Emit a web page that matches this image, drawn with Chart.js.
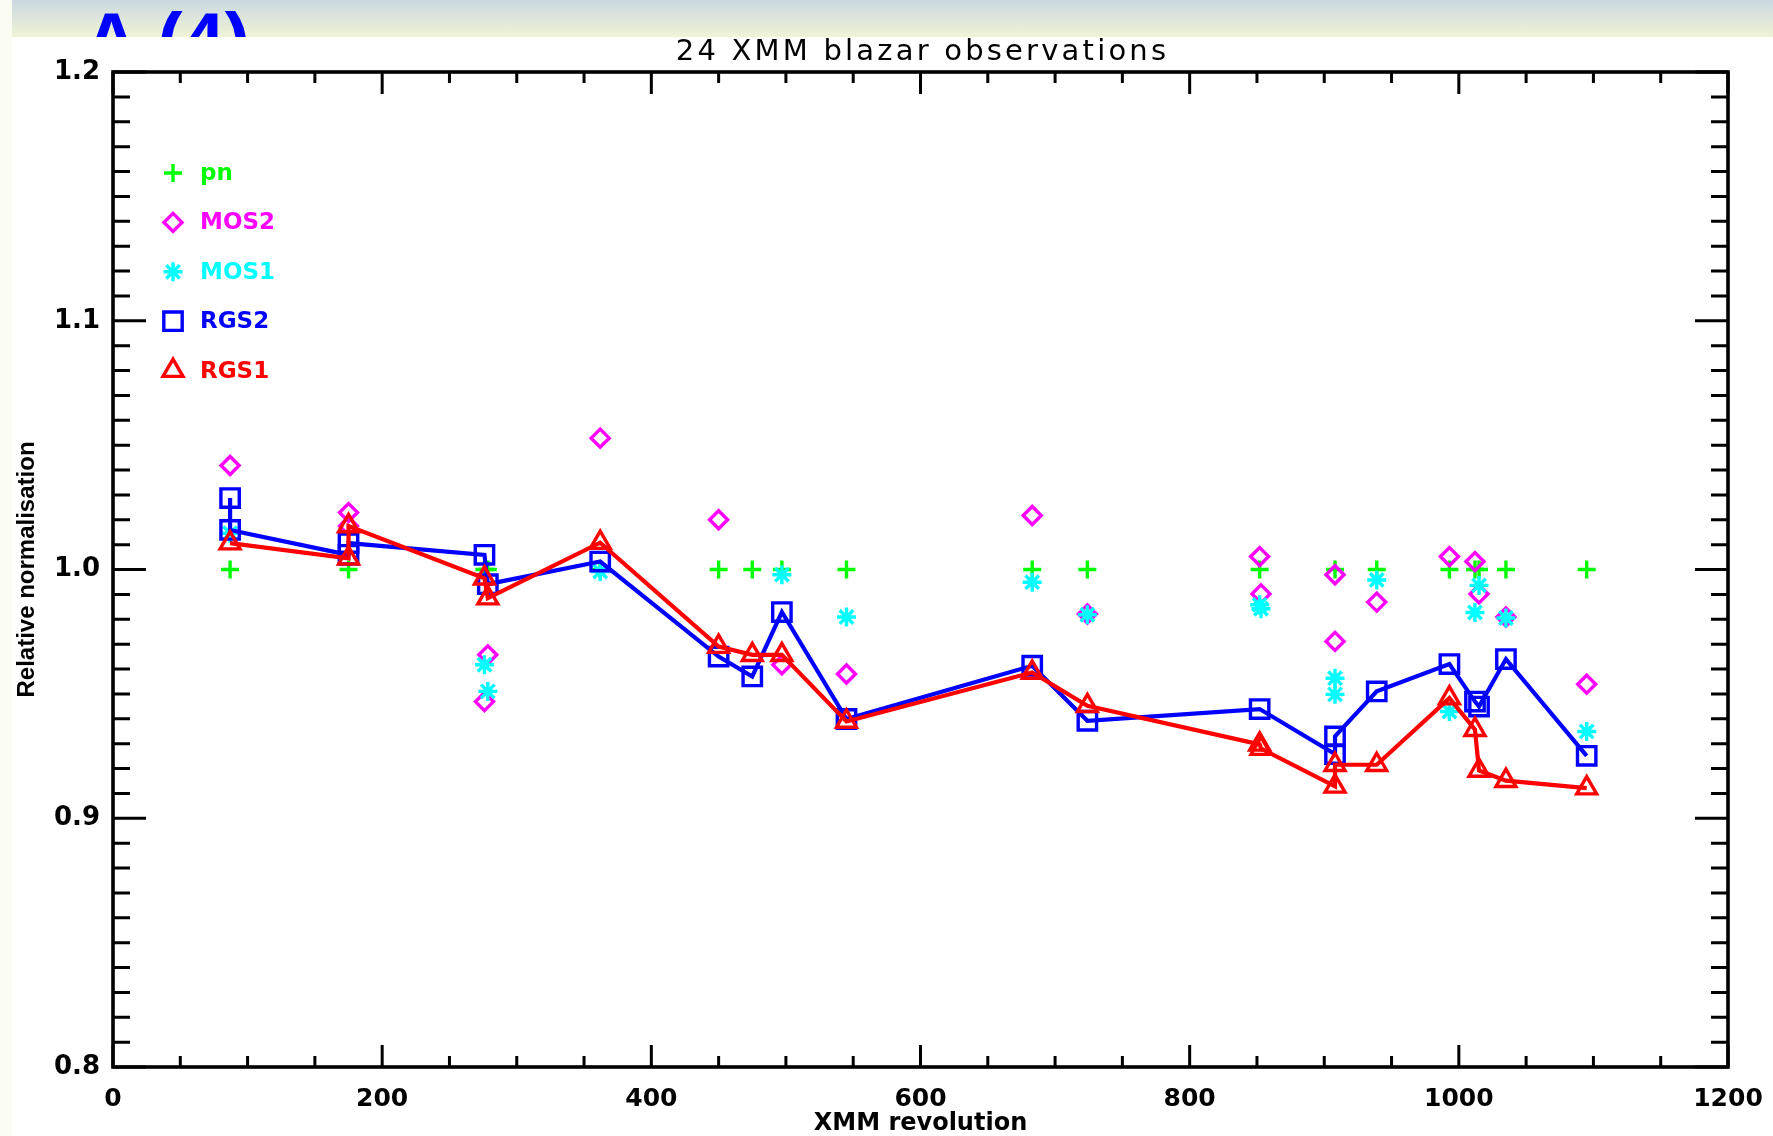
<!DOCTYPE html>
<html>
<head>
<meta charset="utf-8">
<title>24 XMM blazar observations</title>
<script src="https://cdn.jsdelivr.net/npm/chart.js"></script>
<style>
  html, body { margin: 0; padding: 0; background: #fff; }
  #page { position: relative; width: 1773px; height: 1136px; overflow: hidden; background: #fff; }
  #edge { position: absolute; left: 0; top: 0; width: 12px; height: 1136px; background: #fbfcf1; }
  #band { position: absolute; left: 12px; top: 0; right: 0; height: 37px; overflow: hidden;
          background: linear-gradient(#cbd8e2, #f0f3d6); }
  #band span { position: absolute; left: 72px; top: 2px; font: bold 76px/76px "Liberation Sans", sans-serif;
               color: #0000ff; white-space: pre; }
  #box { position: absolute; left: 0; top: 0; width: 1773px; height: 1136px; }
</style>
</head>
<body>
<div id="page">
  <div id="edge"></div>
  <div id="band"><span>A (4)</span></div>
  <div id="box"><canvas id="chart"></canvas></div>
</div>
<script>
const TITLE = '24 XMM blazar observations';
const X_TITLE = 'XMM revolution';
const Y_TITLE = 'Relative normalisation';
const xTickLabels = ['0', '200', '400', '600', '800', '1000', '1200'];
const yTickLabels = ['0.8', '0.9', '1.0', '1.1', '1.2'];

// values (revolution, relative normalisation)
const pnRev  = [87, 175, 276, 278.5, 362, 450, 475, 497, 545, 683, 724, 852, 908, 939, 993, 1012, 1015, 1035, 1095];
const pnNorm = [1.0, 1.0, 1.0, 1.0, 1.0, 1.0, 1.0, 1.0, 1.0, 1.0, 1.0, 1.0, 1.0, 1.0, 1.0, 1.0, 1.0, 1.0, 1.0];

const mos2Rev  = [87, 175, 175, 276, 278.5, 362, 450, 497, 545, 683, 724, 852, 853, 908, 908, 939, 993, 1012, 1015, 1035, 1095];
const mos2Norm = [1.0418, 1.0229, 1.0175, 0.9469, 0.9657, 1.0528, 1.0200, 0.9617, 0.9580, 1.0217, 0.9821,
                  1.0052, 0.9902, 0.9979, 0.9711, 0.9869, 1.0052, 1.0032, 0.9902, 0.9809, 0.9539];

const mos1Rev  = [87, 276, 278.5, 362, 497, 545, 683, 724, 852, 853, 908, 908, 939, 993, 1012, 1015, 1035, 1095];
const mos1Norm = [1.0146, 0.9617, 0.9510, 0.9992, 0.9979, 0.9809, 0.9949, 0.9818, 0.9858, 0.9842,
                  0.9563, 0.9498, 0.9958, 0.9429, 0.9827, 0.9936, 0.9805, 0.9349];

const rgs2Rev  = [87, 87, 175, 175, 276, 278.5, 362, 450, 475, 497, 545, 683, 724, 852, 908, 908, 939, 993, 1012, 1015, 1035, 1095];
const rgs2Norm = [1.0287, 1.0159, 1.0059, 1.0106, 1.0059, 0.9941, 1.0032, 0.9650, 0.9570, 0.9829, 0.9399,
                  0.9613, 0.9392, 0.9439, 0.9258, 0.9329, 0.9510, 0.9620, 0.9469, 0.9449, 0.9640, 0.9251];

const rgs1Rev  = [87, 175, 175, 276, 278.5, 362, 450, 475, 497, 545, 683, 724, 852, 853, 908, 908, 939, 993, 1012, 1015, 1035, 1095];
const rgs1Norm = [1.0106, 1.0045, 1.0175, 0.9965, 0.9885, 1.0108, 0.9690, 0.9657, 0.9657, 0.9389, 0.9586,
                  0.9452, 0.9297, 0.9280, 0.9128, 0.9215, 0.9215, 0.9483, 0.9356, 0.9192, 0.9151, 0.9121];

const pts = (xs, ys) => xs.map((x, i) => ({ x: x, y: ys[i] }));
const HOLLOW = 'rgba(0,0,0,0)';

function labelFor(list, v) {
  const l = list.find(s => Math.abs(Number(s) - v) < 1e-6);
  return l === undefined ? '' : l;
}

// frame with inward ticks on all four sides (IDL style)
const framePlugin = {
  id: 'frame',
  beforeDatasetsDraw(chart) {
    const { ctx, chartArea: a, scales: { x, y } } = chart;
    ctx.save();
    ctx.strokeStyle = '#000';
    ctx.lineWidth = 3;
    ctx.beginPath();
    const xv = x.ticks.map(t => t.value);
    xv.forEach((v, i) => {
      const px = x.getPixelForValue(v);
      ctx.moveTo(px, a.bottom); ctx.lineTo(px, a.bottom - 22);
      ctx.moveTo(px, a.top); ctx.lineTo(px, a.top + 22);
      if (i < xv.length - 1) {
        for (let k = 1; k < 4; k++) {
          const mx = x.getPixelForValue(v + (xv[i + 1] - v) * k / 4);
          ctx.moveTo(mx, a.bottom); ctx.lineTo(mx, a.bottom - 11);
          ctx.moveTo(mx, a.top); ctx.lineTo(mx, a.top + 11);
        }
      }
    });
    const yv = y.ticks.map(t => t.value);
    yv.forEach((v, i) => {
      const py = y.getPixelForValue(v);
      ctx.moveTo(a.left, py); ctx.lineTo(a.left + 33, py);
      ctx.moveTo(a.right, py); ctx.lineTo(a.right - 33, py);
      if (i < yv.length - 1) {
        for (let k = 1; k < 10; k++) {
          const my = y.getPixelForValue(v + (yv[i + 1] - v) * k / 10);
          ctx.moveTo(a.left, my); ctx.lineTo(a.left + 17, my);
          ctx.moveTo(a.right, my); ctx.lineTo(a.right - 17, my);
        }
      }
    });
    ctx.stroke();
    ctx.lineWidth = 3.6;
    ctx.strokeRect(a.left, a.top, a.right - a.left, a.bottom - a.top);
    ctx.restore();
  }
};

// title with the wide letter spacing of the original, and the legend inside the plot
const textPlugin = {
  id: 'texts',
  afterDraw(chart) {
    const { ctx, chartArea: a } = chart;
    ctx.save();
    ctx.font = '29px "DejaVu Sans", sans-serif';
    ctx.fillStyle = '#000';
    ctx.textAlign = 'center';
    ctx.textBaseline = 'alphabetic';
    if ('letterSpacing' in ctx) ctx.letterSpacing = '3.2px';
    ctx.fillText(TITLE, (a.left + a.right) / 2 + 2, 60);
    if ('letterSpacing' in ctx) ctx.letterSpacing = '0px';

    const symX = a.left + 60, textX = a.left + 87;
    ctx.font = 'bold 23px "DejaVu Sans", sans-serif';
    ctx.textAlign = 'left';
    ctx.textBaseline = 'middle';
    chart.data.datasets.forEach((ds, i) => {
      const yy = a.top + 101 + i * 49.4;
      ctx.strokeStyle = ds.borderColor;
      ctx.fillStyle = HOLLOW;
      ctx.lineWidth = ds.pointBorderWidth;
      if (Chart.helpers && Chart.helpers.drawPoint) {
        Chart.helpers.drawPoint(ctx, { pointStyle: ds.pointStyle, rotation: 0, radius: ds.pointRadius, borderWidth: ds.pointBorderWidth }, symX, yy);
      }
      ctx.fillStyle = ds.borderColor;
      ctx.fillText(ds.label, textX, yy + 1);
    });
    ctx.restore();
  }
};

new Chart(document.getElementById('chart'), {
  type: 'scatter',
  data: {
    datasets: [
      { label: 'pn', data: pts(pnRev, pnNorm), pointStyle: 'cross', pointRadius: 9, pointBorderWidth: 3.4,
        borderColor: '#00ff00', backgroundColor: HOLLOW, showLine: false, order: 5 },
      { label: 'MOS2', data: pts(mos2Rev, mos2Norm), pointStyle: 'rectRot', pointRadius: 9, pointBorderWidth: 3.4,
        borderColor: '#ff00ff', backgroundColor: HOLLOW, showLine: false, order: 4 },
      { label: 'MOS1', data: pts(mos1Rev, mos1Norm), pointStyle: 'star', pointRadius: 9.5, pointBorderWidth: 3.4,
        borderColor: '#00ffff', backgroundColor: HOLLOW, showLine: false, order: 3 },
      { label: 'RGS2', data: pts(rgs2Rev, rgs2Norm), pointStyle: 'rect', pointRadius: 13, pointBorderWidth: 3.4,
        borderColor: '#0000ff', backgroundColor: HOLLOW, showLine: true, borderWidth: 4.2, tension: 0, order: 2 },
      { label: 'RGS1', data: pts(rgs1Rev, rgs1Norm), pointStyle: 'triangle', pointRadius: 11.5, pointBorderWidth: 3.4,
        borderColor: '#ff0000', backgroundColor: HOLLOW, showLine: true, borderWidth: 4.2, tension: 0, order: 1 }
    ]
  },
  options: {
    responsive: true,
    maintainAspectRatio: false,
    animation: false,
    events: [],
    layout: { padding: { top: 72, right: 45, left: 0, bottom: 0 } },
    plugins: {
      legend: { display: false },
      tooltip: { enabled: false },
      title: { display: false }
    },
    scales: {
      x: {
        type: 'linear',
        min: 0,
        max: 1200,
        afterFit: s => { s.height = 69; s.paddingLeft = 0; s.paddingRight = 0; },
        grid: { display: false },
        border: { display: false },
        ticks: {
          stepSize: 200,
          padding: 9,
          color: '#000',
          font: { family: 'DejaVu Sans', weight: 'bold', size: 25 },
          callback: v => labelFor(xTickLabels, v)
        },
        title: {
          display: true,
          text: X_TITLE,
          color: '#000',
          padding: { top: 0, bottom: 0 },
          font: { family: 'DejaVu Sans', weight: 'bold', size: 24, lineHeight: 1.05 }
        }
      },
      y: {
        type: 'linear',
        min: 0.8,
        max: 1.2,
        afterFit: s => { s.width = 113; s.paddingTop = 0; s.paddingBottom = 0; },
        grid: { display: false },
        border: { display: false },
        ticks: {
          stepSize: 0.1,
          padding: 5,
          color: '#000',
          font: { family: 'DejaVu Sans', weight: 'bold', size: 26 },
          callback: v => labelFor(yTickLabels, v)
        },
        title: {
          display: true,
          text: Y_TITLE,
          color: '#000',
          padding: { top: 13, bottom: 0 },
          font: { family: 'Liberation Sans', weight: 'bold', size: 24 }
        }
      }
    }
  },
  plugins: [framePlugin, textPlugin]
});
</script>
</body>
</html>
